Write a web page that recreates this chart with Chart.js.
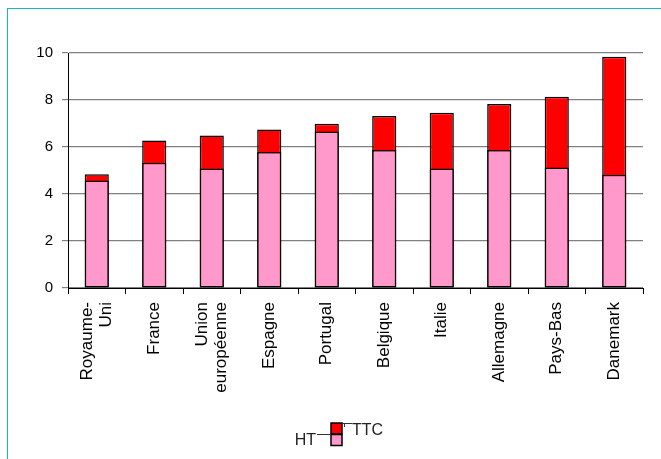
<!DOCTYPE html>
<html>
<head>
<meta charset="utf-8">
<script src="https://cdn.jsdelivr.net/npm/chart.js@4/dist/chart.umd.min.js"></script>
<style>
  html, body { margin: 0; padding: 0; background: #fff; }
  #wrap { position: relative; width: 661px; height: 459px; overflow: hidden; }
  #frame { position: absolute; left: 7px; top: 8px; width: 700px; height: 500px;
           border-left: 1px solid #1ab4c6; border-top: 1px solid #1ab4c6; }
  canvas { position: absolute; left: 0; top: 0; }
</style>
</head>
<body>
<div id="wrap">
  <div id="frame"></div>
  <canvas id="chart" width="661" height="459"></canvas>
</div>
<script>
// values
const countries = [
  ['Royaume-', 'Uni'], 'France', ['Union', 'européenne'], 'Espagne', 'Portugal',
  'Belgique', 'Italie', 'Allemagne', 'Pays-Bas', 'Danemark'
];
const htValues  = [4.57, 5.33, 5.09, 5.79, 6.66, 5.87, 5.08, 5.87, 5.13, 4.82];
const ttcValues = [4.84, 6.28, 6.49, 6.74, 6.99, 7.32, 7.46, 7.83, 8.14, 9.84];
const yTicks = [0, 2, 4, 6, 8, 10];

const FONT = "'Liberation Sans', Arial, sans-serif";
const X_FONT_SIZE = 17;
const X_LINE_H = 19;

// chart.js puts the first line of a rotated multi-line label on the tick;
// the old chart centres the whole block, so shift those labels back by half a line
const centreLabels = {
  id: 'centreLabels',
  afterLayout(c) {
    const s = c.scales.x;
    s.getLabelItems().forEach(item => {
      if (Array.isArray(item.label)) {
        const lines = item.label.length;
        item.options.translation[0] -= X_LINE_H * (lines - 1) / 2;
      }
    });
  }
};

// little legend like the old spreadsheet one: two stacked boxes with leader lines
const stackLegend = {
  id: 'stackLegend',
  afterDraw(c) {
    const ctx = c.ctx;
    const ht = c.data.datasets[0], ttc = c.data.datasets[1];
    const bx = 331, bw = 11, bh = 11;
    ctx.save();
    ctx.lineWidth = 1.5;
    ctx.strokeStyle = '#000';
    // TTC box (top)
    ctx.fillStyle = ttc.backgroundColor;
    ctx.fillRect(bx, 423, bw, bh);
    ctx.strokeRect(bx, 423, bw, bh);
    // HT box (bottom)
    ctx.fillStyle = ht.backgroundColor;
    ctx.fillRect(bx, 434.5, bw, bh);
    ctx.strokeRect(bx, 434.5, bw, bh);
    // leader lines
    ctx.lineWidth = 1;
    ctx.strokeStyle = '#333';
    ctx.beginPath();
    ctx.moveTo(317, 434.5); ctx.lineTo(bx, 434.5);
    ctx.moveTo(bx + bw, 423.5); ctx.lineTo(352, 423.5);
    ctx.moveTo(344.5, 423.5); ctx.lineTo(344.5, 427);
    ctx.stroke();
    ctx.fillStyle = '#222';
    ctx.font = '16px ' + FONT;
    ctx.textBaseline = 'alphabetic';
    ctx.textAlign = 'right';
    ctx.fillText(ht.label, 316, 445);
    ctx.textAlign = 'left';
    ctx.fillText(ttc.label, 352, 435);
    ctx.restore();
  }
};

new Chart(document.getElementById('chart'), {
  type: 'bar',
  data: {
    labels: countries,
    datasets: [
      { label: 'HT', data: htValues, backgroundColor: '#ff99cc', order: 0 },
      { label: 'TTC', data: ttcValues, backgroundColor: '#ff0000', order: 1 }
    ]
  },
  options: {
    responsive: false,
    animation: false,
    devicePixelRatio: 1,
    layout: { padding: { left: 0, top: 53, right: 18, bottom: 0 } },
    datasets: {
      bar: {
        grouped: false,
        categoryPercentage: 1,
        barPercentage: 0.42,
        borderColor: '#000',
        borderWidth: 1.5,
        borderSkipped: false
      }
    },
    plugins: {
      legend: { display: false },
      tooltip: { enabled: false }
    },
    scales: {
      x: {
        offset: true,
        afterFit: (s) => { s.height = 171; },
        grid: { offset: true, drawOnChartArea: false, drawTicks: true, tickLength: 6, color: '#000' },
        border: { color: '#000', width: 1 },
        ticks: {
          autoSkip: false, maxRotation: 90, minRotation: 90, padding: 8,
          color: '#000', font: { family: FONT, size: X_FONT_SIZE, lineHeight: X_LINE_H + 'px' }
        }
      },
      y: {
        min: 0, max: 10,
        afterFit: (s) => { s.width = 68; },
        afterBuildTicks: (s) => { s.ticks = yTicks.map(v => ({ value: v })); },
        grid: { color: '#808080', lineWidth: 1.2, tickLength: 6 },
        border: { color: '#000', width: 1 },
        ticks: { padding: 9, color: '#000', font: { family: FONT, size: 15 } }
      }
    }
  },
  plugins: [centreLabels, stackLegend]
});
</script>
</body>
</html>
